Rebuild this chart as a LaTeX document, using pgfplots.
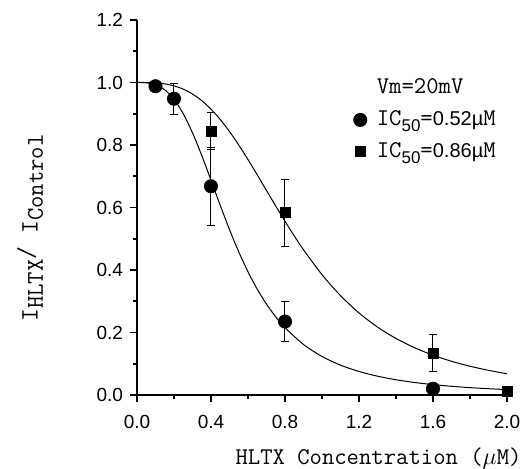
\documentclass[border=0pt]{standalone}
\usepackage{pgfplots}
\pgfplotsset{compat=1.18}
\usepackage{fontspec}
\setsansfont{Liberation Sans}

\begin{document}
\begin{tikzpicture}
\useasboundingbox (-68.5pt,-37pt) rectangle (192pt,197.5pt);
\begin{axis}[
  at={(0,0)}, anchor=south west,
  scale only axis, width=185pt, height=187.5pt,
  xmin=0, xmax=2, ymin=0, ymax=1.2,
  axis lines=left,
  axis line style={-, line width=0.9pt},
  xtick={0,0.4,0.8,1.2,1.6,2.0},
  minor xtick={0.2,0.6,1.0,1.4,1.8},
  ytick={0,0.2,0.4,0.6,0.8,1.0,1.2},
  minor ytick={0.1,0.3,0.5,0.7,0.9,1.1},
  tick align=outside,
  major tick length=3.5pt, minor tick length=2pt,
  tick style={black, line width=0.8pt},
  ticklabel style={font=\sffamily\fontsize{9.5}{11}\selectfont},
  xticklabel style={yshift=-3pt},
  /pgf/number format/.cd, fixed, fixed zerofill, precision=1, assume math mode=true,
  /pgfplots/.cd,
  xlabel={HLTX Concentration ($\mu$M)},
  xlabel style={at={(axis description cs:1,0)}, anchor=north east, inner sep=0pt,
    xshift=7.5pt, yshift=-26pt, font=\ttfamily\fontsize{12}{14}\selectfont},
  ylabel={I\raisebox{-0.5ex}{\fontsize{12}{14}\selectfont HLTX}\raisebox{0.3ex}{/} I\raisebox{-0.5ex}{\fontsize{12}{14}\selectfont Control}},
  ylabel style={at={(axis description cs:-0.289,0.445)}, anchor=center, inner sep=0pt,
    font=\ttfamily\fontsize{12.5}{14}\selectfont},
  legend style={at={(axis description cs:0.54,0.865)}, anchor=north west,
    draw=none, fill=none, row sep=3pt, font=\ttfamily\fontsize{12}{14}\selectfont,
    /tikz/every odd column/.append style={column sep=3pt}},
  legend cell align=left,
  error bars/error bar style={line width=0.5pt, black},
  error bars/error mark options={black, line width=0.5pt, mark size=1.8pt, rotate=90},
]
\addlegendimage{empty legend}
\addlegendentry{Vm=20mV}

% fitted curve, IC50 = 0.52
\addplot[black, line width=0.5pt, smooth, forget plot] coordinates {
(0,1) (0.05,0.9991) (0.1,0.9929) (0.15,0.9766) (0.2,0.9462) (0.25,0.9000)
(0.3,0.8389) (0.35,0.7663) (0.4,0.6872) (0.45,0.6068) (0.5,0.5294)
(0.55,0.4580) (0.6,0.3943) (0.65,0.3386) (0.7,0.2907) (0.75,0.2500)
(0.8,0.2155) (0.9,0.1617) (1.0,0.1233) (1.1,0.0955) (1.2,0.0753)
(1.3,0.0602) (1.4,0.0487) (1.5,0.0400) (1.6,0.0332) (1.7,0.0278)
(1.8,0.0235) (1.9,0.0201) (2.0,0.0173)
};
% fitted curve, IC50 = 0.86
\addplot[black, line width=0.5pt, smooth, forget plot] coordinates {
(0,1) (0.05,0.9999) (0.1,0.9987) (0.15,0.9956) (0.2,0.9892) (0.25,0.9787)
(0.3,0.9632) (0.35,0.9420) (0.4,0.9147) (0.45,0.8816) (0.5,0.8431)
(0.55,0.7999) (0.6,0.7532) (0.65,0.7044) (0.7,0.6544) (0.75,0.6046)
(0.8,0.5558) (0.85,0.5091) (0.9,0.4648) (1.0,0.3852) (1.1,0.3180)
(1.2,0.2626) (1.3,0.2174) (1.4,0.1809) (1.5,0.1513) (1.6,0.1274)
(1.7,0.1079) (1.8,0.0920) (1.9,0.0789) (2.0,0.0681)
};

\addplot[only marks, mark=*, mark size=3.3pt, black,
  error bars/.cd, y dir=both, y explicit] coordinates {
(0.1,0.988)
(0.2,0.948) +- (0,0.05)
(0.4,0.668) +- (0,0.125)
(0.8,0.235) +- (0,0.065)
(1.6,0.02)
};
\addlegendentry{IC\raisebox{-0.5ex}{\sffamily\fontsize{8.5}{10}\selectfont 50}={\sffamily\fontsize{10}{12}\selectfont 0.52µ}M}

\addplot[only marks, mark=square*, mark size=2.5pt, black,
  error bars/.cd, y dir=both, y explicit] coordinates {
(0.4,0.845) +- (0,0.06)
(0.8,0.583) +- (0,0.108)
(1.6,0.134) +- (0,0.06)
(2.0,0.011)
};
\addlegendentry{IC\raisebox{-0.5ex}{\sffamily\fontsize{8.5}{10}\selectfont 50}={\sffamily\fontsize{10}{12}\selectfont 0.86µ}M}
\end{axis}
\end{tikzpicture}
\end{document}
